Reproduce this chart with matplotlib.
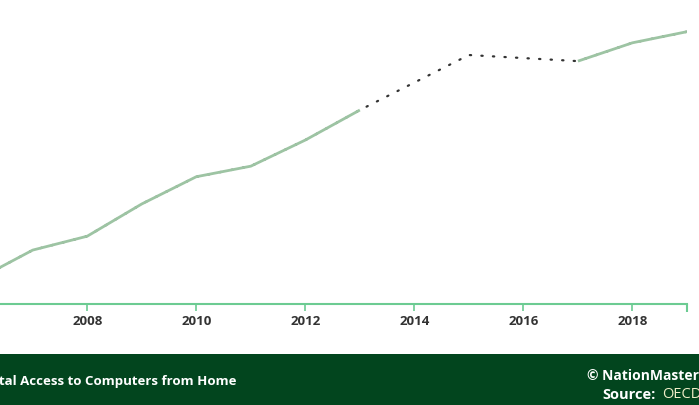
import numpy as np
import matplotlib.pyplot as plt

plt.switch_backend('Agg')
plt.rcParams['font.family'] = ['Open Sans', 'DejaVu Sans']

# --- data (percent of households) ---
years = [2006, 2007, 2008, 2009, 2010, 2011, 2012, 2013, 2014, 2015, 2016, 2017, 2018, 2019]
values = [44.5, 49.7, 52.2, 58.0, 62.9, 64.8, 69.5, 74.9, np.nan, 84.8, np.nan, 83.7, 87.0, 89.0]
tick_years = [2008, 2010, 2012, 2014, 2016, 2018]
title = "Total Access to Computers from Home"

LINE = "#9dc4a3"
AXIS = "#6ccb92"
FOOT = "#02451e"

W, H = 699, 405
fig = plt.figure(figsize=(W / 100, H / 100), dpi=100)

# axes: x from px 0 to 687, y from px 0 to 304
ax = fig.add_axes([0, 1 - 304 / H, 687 / W, 304 / H])
ax.set_xlim(2006.4, 2019)
ax.set_ylim(40, 94.7)

yrs = np.array(years, dtype=float)
vals = np.array(values, dtype=float)

# gaps bridged with a dotted line
known = ~np.isnan(vals)
ax.plot(yrs[known], vals[known], color="#333333", lw=1.6,
        linestyle=(0, (0.6, 4.6)), dash_capstyle='round', zorder=1)
ax.plot(yrs, vals, color=LINE, lw=2.0, zorder=2, solid_capstyle='butt')

for s in ["left", "right", "top"]:
    ax.spines[s].set_visible(False)
ax.spines["bottom"].set_color(AXIS)
ax.spines["bottom"].set_linewidth(1.5)
ax.set_yticks([])
ax.set_xticks(tick_years)
ax.set_xticklabels([str(y) for y in tick_years])
ax.set_xticks([2019], minor=True)
ax.tick_params(axis='x', which='major', colors=AXIS, length=5, width=1.2,
               labelcolor="#333333", labelsize=9.5, pad=3)
ax.tick_params(axis='x', which='minor', colors=AXIS, length=6, width=1.5)
for lab in ax.get_xticklabels():
    lab.set_fontweight('bold')
ax.patch.set_alpha(0)

# footer band
foot = fig.add_axes([0, 0, 1, 51 / H])
foot.set_facecolor(FOOT)
foot.set_xticks([])
foot.set_yticks([])
for s in foot.spines.values():
    s.set_visible(False)

fig.text(-16 / W, 24 / H, title, color="white", fontsize=9.5,
         fontweight='bold', va='center', ha='left')
fig.text(699 / W, 29 / H, "\u00a9 NationMaster", color="white", fontsize=10,
         fontweight='bold', va='center', ha='right')
fig.text(701 / W, 10 / H, "OECD", color="#f0eec8", fontsize=10.5,
         va='center', ha='right')
fig.text(656 / W, 10 / H, "Source:", color="white", fontsize=10.5,
         fontweight='bold', va='center', ha='right')

fig.savefig("out.png", dpi=100)
